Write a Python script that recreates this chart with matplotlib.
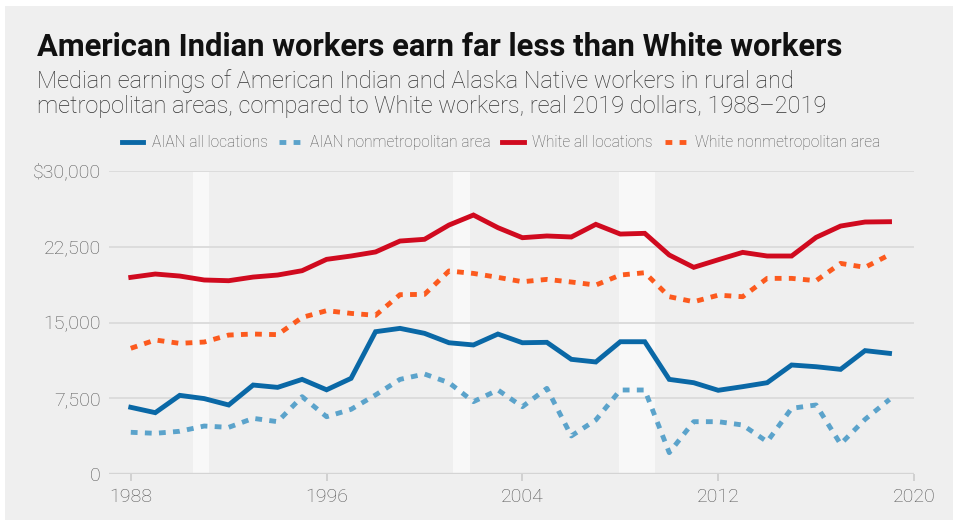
import matplotlib
matplotlib.use("Agg")
import matplotlib.pyplot as plt
from matplotlib.patches import Rectangle

# Median earnings, real 2019 dollars
years = list(range(1988, 2020))
aian_all = [6620, 6090, 7800, 7480, 6850, 8820, 8590, 9380, 8350, 9480,
            14090, 14420, 13930, 13000, 12780, 13860, 13000, 13040, 11360, 11100,
            13100, 13100, 9380, 9050, 8300, 8660, 9050, 10800, 10630, 10370,
            12220, 11950]
aian_nonmetro = [4150, 4050, 4250, 4770, 4640, 5530, 5200, 7670, 5690, 6420,
                 7840, 9380, 9910, 9050, 7180, 8330, 6680, 8490, 3790, 5370,
                 8330, 8330, 2140, 5200, 5200, 4870, 3220, 6520, 6850, 2990,
                 5430, 7400]
white_all = [19460, 19790, 19590, 19200, 19130, 19490, 19690, 20120, 21240, 21570,
             21970, 23050, 23220, 24630, 25620, 24370, 23380, 23550, 23450, 24700,
             23740, 23810, 21670, 20450, 21200, 21930, 21570, 21570, 23410, 24530,
             24930, 24960]
white_nonmetro = [12450, 13270, 12940, 13070, 13760, 13860, 13800, 15500, 16170, 15900,
                  15710, 17750, 17780, 20090, 19850, 19460, 19030, 19260, 19000, 18700,
                  19690, 19920, 17550, 17050, 17700, 17550, 19360, 19360, 19130, 20840,
                  20450, 21700]

series_labels = ["AIAN all locations", "AIAN nonmetropolitan area",
                 "White all locations", "White nonmetropolitan area"]

# Recession periods (shaded)
recessions = [(1990.55, 1991.2), (2001.17, 2001.87), (2007.93, 2009.43)]

y_ticks = [0, 7500, 15000, 22500, 30000]
y_tick_labels = ["0", "7,500", "15,000", "22,500", "$30,000"]
x_ticks = [1988, 1996, 2004, 2012, 2020]

plt.rcParams["font.family"] = ["Roboto", "DejaVu Sans"]
plt.rcParams["font.weight"] = "light"

W, H = 954, 520
BG = "#efefef"
fig = plt.figure(figsize=(W / 100, H / 100), dpi=100, facecolor="white")
fig.patches.append(Rectangle((5 / W, 0), 1, 1 - 6 / H, transform=fig.transFigure,
                             facecolor=BG, edgecolor="none", zorder=-10))

ax = fig.add_axes([109 / W, 1 - 474.3 / H, (914 - 109) / W, (474.3 - 170.7) / H])
ax.set_facecolor(BG)
for s in ax.spines.values():
    s.set_visible(False)

for x0, x1 in recessions:
    ax.axvspan(x0, x1, color="#f8f8f8", lw=0, zorder=0.5)

ax.set_xlim(1987.11, 2020)
ax.set_ylim(0, 30000)
ax.set_yticks(y_ticks)
ax.set_yticklabels(y_tick_labels)
ax.set_xticks(x_ticks)
ax.grid(axis="y", color="#dadada", lw=1.3, zorder=0.8)
ax.set_axisbelow(True)
ax.axhline(0, color="#d4d4d4", lw=2.4, zorder=0.9)

ax.tick_params(axis="y", length=0, pad=6, labelsize=14, labelcolor="#555555")
ax.tick_params(axis="x", length=5, width=1.2, color="#cccccc", pad=5,
               labelsize=14, labelcolor="#555555")

lw = 3.5
dots = (0, (1.4, 1.5))
h1, = ax.plot(years, aian_all, color="#0a68a6", lw=lw, solid_joinstyle="miter",
              label=series_labels[0], zorder=4)
h2, = ax.plot(years, aian_nonmetro, color="#5ba3cb", lw=lw, linestyle=dots,
              dash_capstyle="butt", label=series_labels[1], zorder=3)
h3, = ax.plot(years, white_all, color="#d00a1f", lw=lw, solid_joinstyle="miter",
              label=series_labels[2], zorder=4)
h4, = ax.plot(years, white_nonmetro, color="#fc5a1e", lw=lw, linestyle=dots,
              dash_capstyle="butt", label=series_labels[3], zorder=3)

fig.legend(handles=[h1, h2, h3, h4], loc="center", bbox_to_anchor=(500.8 / W, 1 - 142.5 / H),
           ncol=4, frameon=False, fontsize=11.2, labelcolor="#555555",
           handlelength=1.4, handletextpad=0.55, columnspacing=0.75)

fig.text(37 / W, 1 - 56 / H, "American Indian workers earn far less than White workers",
         fontsize=22.3, fontweight="bold", color="#111111", va="baseline", ha="left")
fig.text(37 / W, 1 - 88.3 / H,
         "Median earnings of American Indian and Alaska Native workers in rural and",
         fontsize=17, color="#333333", va="baseline", ha="left")
fig.text(37 / W, 1 - 113.5 / H,
         "metropolitan areas, compared to White workers, real 2019 dollars, 1988\u20132019",
         fontsize=17, color="#333333", va="baseline", ha="left")

fig.savefig("out.png", dpi=100, facecolor="white")
